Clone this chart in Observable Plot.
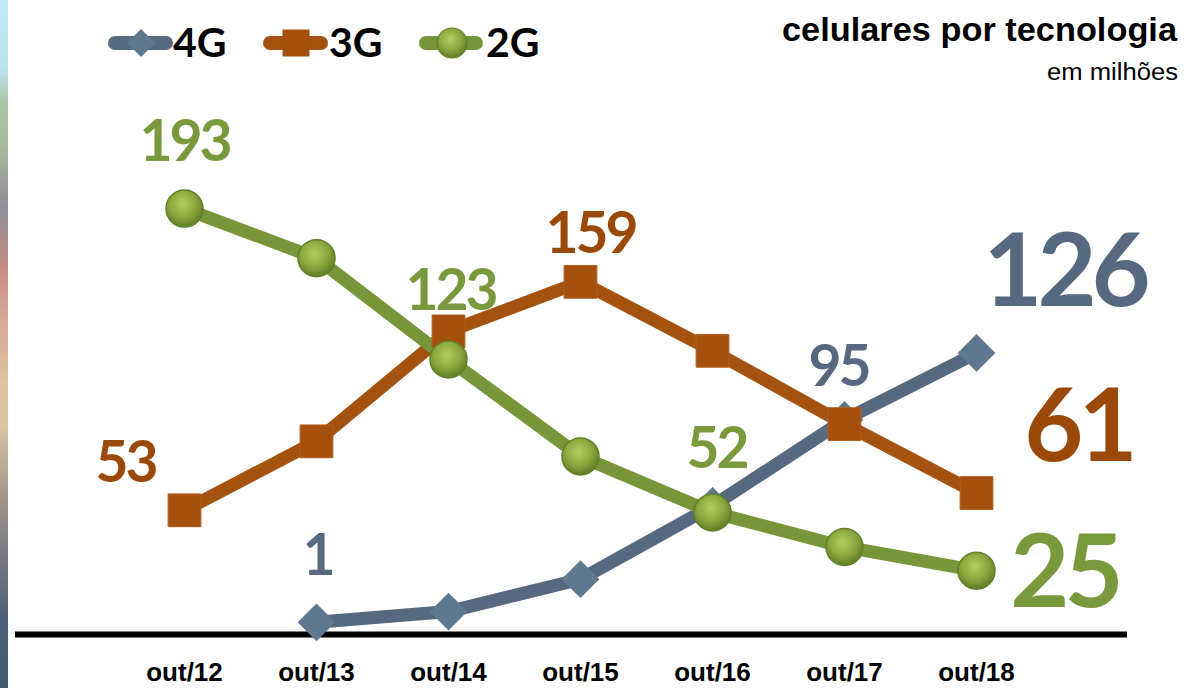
<!DOCTYPE html>
<html>
<head>
<meta charset="utf-8">
<script src="https://cdn.jsdelivr.net/npm/d3@7"></script>
<script src="https://cdn.jsdelivr.net/npm/@observablehq/plot@0.6"></script>
<style>
  html, body { margin: 0; padding: 0; background: #fff; }
  #wrap { position: relative; width: 1188px; height: 688px; overflow: hidden; background: #fff; }
  #strip { position: absolute; left: 0; top: 0; width: 8px; height: 688px;
    background: linear-gradient(to bottom, #c2e8f6 0%, #bde2ee 10%, #a9c7a3 15%, #a6b59a 22%, #8f8e98 30%, #c58c82 39%, #d9ab98 47%, #dcc2a2 56%, #d9c4a4 62%, #a8998a 71%, #7d7b84 80%, #4d6078 90%, #3f5f6e 100%); }
  #header { position: absolute; left: 0; top: 0; }
  #chart { position: absolute; left: 0; top: 95px; }
</style>
</head>
<body>
<div id="wrap">
  <div id="strip"></div>
  <div id="header"></div>
  <div id="chart"></div>
</div>
<script>
// ---- data ----
const periods = ["out/12", "out/13", "out/14", "out/15", "out/16", "out/17", "out/18"];
const seriesNames = ["4G", "3G", "2G"];
const values4G = [null, 1, 6, 21, 55, 95, 126];
const values3G = [53, 85, 136, 159, 127, 93, 61];
const values2G = [193, 170, 123, 78, 52, 36, 25];
const titleText = "celulares por tecnologia";
const subtitleText = "em milhões";

// ---- styles ----
const colors = {
  "4G": { line: "#56697e", marker: "#5f788e", text: "#56697e" },
  "3G": { line: "#a4520f", marker: "#a5500e", text: "#9a4908" },
  "2G": { line: "#77963a", marker: "url(#ball)", text: "#789a3c" }
};

const valuesBySeries = { "4G": values4G, "3G": values3G, "2G": values2G };
const rows = [];
for (const s of seriesNames) {
  valuesBySeries[s].forEach((v, i) => {
    if (v != null) rows.push({ series: s, period: periods[i], value: v });
  });
}
const find = (s, p) => rows.find(r => r.series === s && r.period === p);

// label placement (layout config): series, period, dx, dy, big?
const labelSpecs = [
  ["2G", "out/12", 0, -48, false],
  ["2G", "out/14", 2, -49, false],
  ["2G", "out/16", 4, -44, false],
  ["2G", "out/18", 88, 36, true],
  ["3G", "out/12", -59, -28, false],
  ["3G", "out/15", 10, -29, false],
  ["3G", "out/18", 102, -32, true],
  ["4G", "out/13", 1, -47, false],
  ["4G", "out/17", -6, -34, false],
  ["4G", "out/18", 88, -47, true]
];

const lineMarks = ["3G", "4G", "2G"].map(s =>
  Plot.line(rows.filter(r => r.series === s), {
    x: "period", y: "value", stroke: colors[s].line, strokeWidth: 13,
    strokeLinejoin: "round", strokeLinecap: "butt"
  })
);

const dotMarks = [
  Plot.dot(rows.filter(r => r.series === "4G"), {x: "period", y: "value", symbol: "diamond2", r: 17, fill: colors["4G"].marker, stroke: "none"}),
  Plot.dot(rows.filter(r => r.series === "3G"), {x: "period", y: "value", symbol: "square", r: 18.5, fill: colors["3G"].marker, stroke: "#b35e1c", strokeWidth: 1}),
  Plot.dot(rows.filter(r => r.series === "2G"), {x: "period", y: "value", symbol: "circle", r: 18.5, fill: colors["2G"].marker, stroke: "#62802a", strokeWidth: 1.5})
];

const labelMarks = labelSpecs.map(([s, p, dx, dy, big]) => {
  const d = find(s, p);
  return Plot.text([d], {
    x: "period", y: "value", text: r => String(r.value),
    dx, dy, lineAnchor: "bottom", textAnchor: "middle",
    fill: colors[s].text, fontSize: big ? 102 : 57,
    fontFamily: "Lato", fontWeight: "bold"
  });
});

const chart = Plot.plot({
  width: 1188,
  height: 593,
  marginLeft: 183,
  marginRight: 212,
  marginTop: 98,
  marginBottom: 64,
  style: { fontFamily: "'Liberation Sans', Arial, sans-serif", fontSize: "26px", fontWeight: "bold", color: "#000", background: "transparent", overflow: "visible" },
  x: { type: "point", domain: periods, padding: 0, tickSize: 0, tickPadding: 38, label: null },
  y: { domain: [0, 200], axis: null },
  marks: [
    Plot.ruleY([-4.6], { stroke: "#000", strokeWidth: 6, insetLeft: -168, insetRight: -151 }),
    ...lineMarks,
    ...dotMarks,
    ...labelMarks
  ]
});

// gradient for 2G balls
const defs = d3.select(chart).insert("defs", ":first-child");
function addBall(defsSel, id) {
  const g = defsSel.append("radialGradient").attr("id", id)
    .attr("cx", "45%").attr("cy", "38%").attr("r", "62%");
  g.append("stop").attr("offset", "0%").attr("stop-color", "#b2cd64");
  g.append("stop").attr("offset", "55%").attr("stop-color", "#8caa40");
  g.append("stop").attr("offset", "100%").attr("stop-color", "#5f7d25");
}
addBall(defs, "ball");
// tighten digit spacing (Calibri-like)
d3.select(chart).selectAll("g[aria-label='text'] text").style("letter-spacing", function() {
  const fs = parseFloat(d3.select(this.parentNode).attr("font-size")) || 57;
  return fs > 80 ? "-5px" : "-3px";
});
document.getElementById("chart").appendChild(chart);

// ---- header: legend + title ----
const hdr = d3.select("#header").append("svg").attr("width", 1188).attr("height", 95);
const hdefs = hdr.append("defs");
addBall(hdefs, "ballL");
const legendItems = [
  { s: "4G", x0: 115, x1: 166, cx: 141, tx: 173 },
  { s: "3G", x0: 270, x1: 321, cx: 296, tx: 329 },
  { s: "2G", x0: 426, x1: 476, cx: 452, tx: 486 }
];
for (const it of legendItems) {
  hdr.append("line").attr("x1", it.x0).attr("x2", it.x1).attr("y1", 43).attr("y2", 43)
    .attr("stroke", colors[it.s].line).attr("stroke-width", 14).attr("stroke-linecap", "round");
  if (it.s === "4G") {
    hdr.append("path").attr("d", `M${it.cx},29 L${it.cx + 14},43 L${it.cx},57 L${it.cx - 14},43 Z`)
      .attr("fill", colors["4G"].marker);
  } else if (it.s === "3G") {
    hdr.append("rect").attr("x", it.cx - 13.5).attr("y", 29.5).attr("width", 27).attr("height", 27)
      .attr("fill", colors["3G"].marker);
  } else {
    hdr.append("circle").attr("cx", it.cx).attr("cy", 43).attr("r", 15)
      .attr("fill", "url(#ballL)").attr("stroke", "#62802a").attr("stroke-width", 1.2);
  }
  hdr.append("text").attr("x", it.tx).attr("y", 57).text(it.s)
    .attr("font-family", "Lato").attr("font-weight", "bold").attr("font-size", 41).attr("fill", "#000");
}
hdr.append("text").attr("x", 782).attr("y", 41).text(titleText)
  .attr("font-family", "'Liberation Sans', Arial, sans-serif").attr("font-weight", "bold")
  .attr("font-size", 33).attr("textLength", 395).attr("lengthAdjust", "spacingAndGlyphs").attr("fill", "#000");
hdr.append("text").attr("x", 1047).attr("y", 80).text(subtitleText)
  .attr("font-family", "'Liberation Sans', Arial, sans-serif")
  .attr("font-size", 23).attr("textLength", 131).attr("lengthAdjust", "spacingAndGlyphs").attr("fill", "#000");
</script>
</body>
</html>
